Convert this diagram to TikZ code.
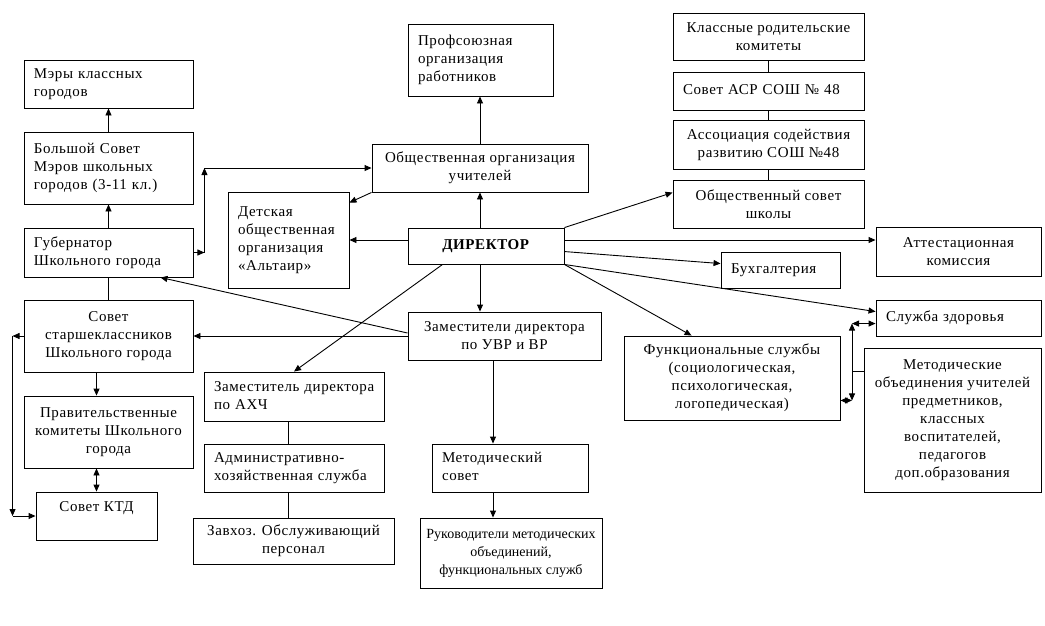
\documentclass[tikz,border=0pt]{standalone}
\usepackage{fontspec}
\setmainfont{Liberation Serif}[LetterSpace=4]
\usetikzlibrary{arrows.meta,calc}
\newcommand{\Lt}[1]{\begin{tabular}{@{}l@{}}#1\end{tabular}}
\tikzset{
  box/.style={draw, line width=0.9pt, inner sep=0pt, font=\fontsize{15}{18}\selectfont},
  narrow/.style={font=\fontsize{14}{18}\selectfont\addfontfeature{LetterSpace=0}},
  bxat/.style n args={4}{minimum width={#3-#1}, minimum height={#4-#2}, at={({(#1+#3)/2},{(#2+#4)/2})}},
  lft/.style={align=left, text width=#1},
  ctr/.style={align=center},
  conn/.style={line width=0.9pt},
  >={Triangle[length=7pt,width=6pt]}
}
\begin{document}
\begin{tikzpicture}[x=1pt,y=-1pt]
\fill[white] (0,0) rectangle (1045,625);
\useasboundingbox (0,0) rectangle (1045,625);
% left column
\node[box,bxat={24}{60}{193}{108},lft=149pt] (mery) {\Lt{Мэры классных\\городов}};
\node[box,bxat={24}{132}{193}{204},lft=149pt] (bsovet) {\Lt{Большой Совет\\Мэров школьных\\городов (3-11 кл.)}};
\node[box,bxat={24}{228}{193}{277},lft=149pt] (gub) {\Lt{Губернатор\\Школьного города}};
\node[box,bxat={24}{300}{193}{372},ctr] (sst) {Совет\\старшеклассников\\Школьного города};
\node[box,bxat={24}{396}{193}{468},ctr] (prav) {Правительственные\\комитеты Школьного\\города};
\node[box,bxat={36}{492}{157}{540},ctr] (ktd) {Совет КТД\\\mbox{}};
% middle
\node[box,bxat={228}{192}{349}{288},lft=101pt] (det) {\Lt{Детская\\общественная\\организация\\«Альтаир»}};
\node[box,bxat={408}{24}{553}{96},lft=125pt] (prof) {\Lt{Профсоюзная\\организация\\работников}};
\node[box,bxat={372}{144}{588}{192},ctr] (obsh) {Общественная организация\\учителей};
\node[box,bxat={408}{228}{564}{264},ctr] (dir) {\textbf{ДИРЕКТОР}};
\node[box,bxat={408}{312}{601}{360},ctr] (zam) {Заместители директора\\по УВР и ВР};
\node[box,bxat={204}{372}{384}{421},lft=160pt] (axch) {\Lt{Заместитель директора\\по АХЧ}};
\node[box,bxat={204}{444}{384}{492},lft=160pt] (adm) {\Lt{Административно-\\хозяйственная служба}};
\node[box,bxat={193}{518}{394}{564},ctr] (zavhoz) {Завхоз. Обслуживающий\\персонал};
\node[box,bxat={432}{444}{588}{492},lft=136pt] (metsov) {\Lt{Методический\\совет}};
\node[box,narrow,bxat={420}{518}{602}{588},ctr] (ruk) {Руководители методических\\объединений,\\функциональных служб};
% right
\node[box,bxat={673}{13}{864}{60},ctr] (klass) {Классные родительские\\комитеты};
\node[box,bxat={673}{72}{864}{110},lft=171pt] (asr) {\Lt{Совет АСР СОШ № 48}};
\node[box,bxat={673}{120}{864}{169},ctr] (assoc) {Ассоциация содействия\\развитию СОШ №48};
\node[box,bxat={673}{180}{864}{228},ctr] (obsov) {Общественный совет\\школы};
\node[box,bxat={721}{252}{840}{288},lft=99pt] (buh) {\Lt{Бухгалтерия}};
\node[box,bxat={876}{227}{1041}{276},ctr] (att) {Аттестационная\\комиссия};
\node[box,bxat={876}{300}{1041}{336},lft=145pt] (zdor) {\Lt{Служба здоровья}};
\node[box,bxat={624}{336}{840}{420},ctr] (func) {Функциональные службы\\(социологическая,\\психологическая,\\логопедическая)};
\node[box,bxat={864}{348}{1041}{492},ctr] (metob) {Методические\\объединения учителей\\предметников,\\классных\\воспитателей,\\педагогов\\доп.образования};
% connectors left column
\draw[conn,->] (gub.north) -- (bsovet.south);
\draw[conn,->] (bsovet.north) -- (mery.south);
\draw[conn] (gub.south) -- (sst.north);
\draw[conn,->] (sst.south -| ktd.north) -- (prav.north -| ktd.north);
\draw[conn,<->] (prav.south -| ktd.north) -- (ktd.north);
\coordinate (lb1) at ($(sst.west)+(-11,0)$);
\coordinate (lb2) at (lb1 |- ktd.west);
\draw[conn,->] (sst.west) -- (lb1);
\draw[conn,->] (lb1) -- (lb2);
\draw[conn,->] (lb2) -- (ktd.west);
\coordinate (cA) at ($(gub.east)+(11,0)$);
\coordinate (cB) at (cA |- obsh.west);
\draw[conn,->] (gub.east) -- (cA);
\draw[conn,->] (cA) -- (cB);
\draw[conn,->] (cB) -- (obsh.west);
% director
\draw[conn,->] (dir.north -| obsh.south) -- (obsh.south);
\draw[conn,->] (obsh.north) -- (prof.south -| obsh.north);
\draw[conn,->] (obsh.south west) -- ($(det.north east)+(0,11)$);
\draw[conn,->] (dir.west |- det.east) -- (det.east);
\draw[conn,->] (dir.south -| obsh.south) -- (zam.north -| obsh.south);
\draw[conn,->] ($(dir.south west)+(35,0)$) -- (axch.north);
\draw[conn,->] (zam.west) -- (sst.east);
\draw[conn,->] ($(zam.west)+(0,-3)$) -- ($(gub.south east)+(-33,0)$);
\coordinate (cx) at (493,0);
\draw[conn,->] (zam.south -| cx) -- (metsov.north -| cx);
\draw[conn,->] (metsov.south -| cx) -- (ruk.north -| cx);
\coordinate (ax) at (288,0);
\draw[conn] (axch.south -| ax) -- (adm.north -| ax);
\draw[conn] (adm.south -| ax) -- (zavhoz.north -| ax);
% right column
\draw[conn] (klass.south) -- (asr.north);
\draw[conn] (asr.south) -- (assoc.north);
\draw[conn] (assoc.south) -- (obsov.north);
\draw[conn,->] (dir.north east) -- ($(obsov.north west)+(0,13)$);
\draw[conn,->] (dir.east |- det.east) -- (att.west |- det.east);
\draw[conn,->] ($(dir.north east)+(0,24)$) -- ($(buh.north west)+(0,12)$);
\draw[conn,->] (dir.south east) -- ($(zdor.north west)+(0,12)$);
\draw[conn,->] (dir.south east) -- ($(func.north west)+(68,0)$);
\coordinate (bx) at (852,0);
\coordinate (zin) at ($(zdor.north west)+(0,24)$);
\coordinate (min) at ($(metob.north west)+(0,24)$);
\coordinate (fin) at ($(func.south east)+(0,-20)$);
\coordinate (b1) at (bx |- zin);
\coordinate (b2) at (bx |- min);
\coordinate (b3) at (bx |- fin);
\draw[conn] (min) -- (b2);
\draw[conn,->] (b2) -- (b1);
\draw[conn,<->] (b1) -- (zin);
\draw[conn,->] (b2) -- (b3);
\draw[conn,<->] (b3) -- (fin);
\end{tikzpicture}
\end{document}
